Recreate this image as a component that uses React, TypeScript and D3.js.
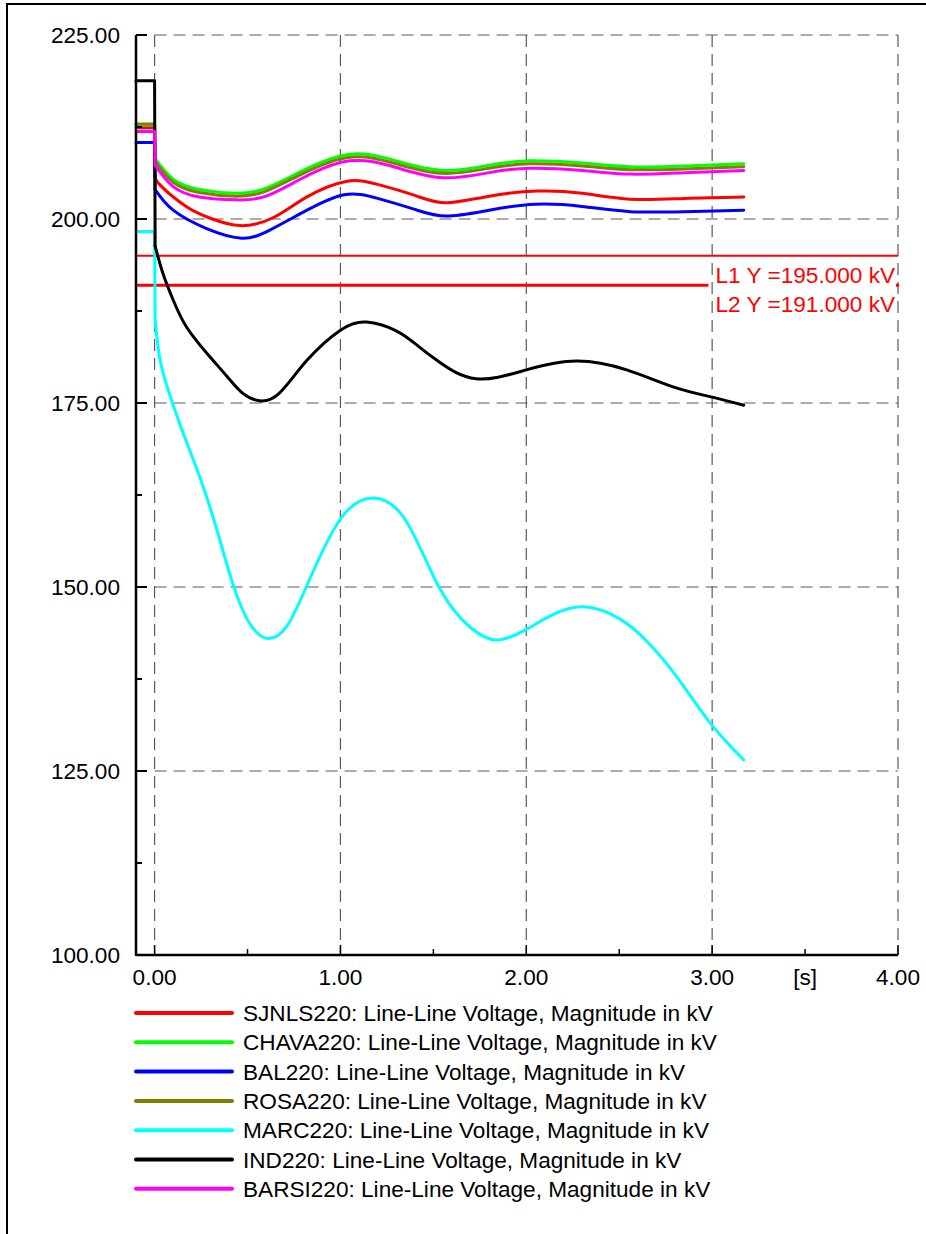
import React from "react";
import * as d3 from "d3";

// ---- data ----
const redT = [-0.1, 0, 0.003, 0.03, 0.17, 0.3, 0.46, 0.64, 0.82, 1.03, 1.2, 1.4, 1.57, 1.8, 2.06, 2.3, 2.56, 2.85, 3.17];
const redV = [212.4, 212.4, 205.9, 204.6, 201.7, 200.1, 199.1, 200.2, 203.0, 205.1, 204.7, 203.2, 202.2, 203.1, 203.8, 203.5, 202.7, 202.8, 203.0];

const greenT = [-0.1, 0, 0.003, 0.1, 0.24, 0.44, 0.6, 0.8, 1.05, 1.3, 1.55, 1.8, 2.02, 2.3, 2.56, 2.85, 3.17];
const greenV = [212.8, 212.8, 208.2, 205.4, 204.0, 203.5, 204.2, 206.6, 208.8, 207.9, 206.6, 207.3, 207.9, 207.6, 207.1, 207.2, 207.5];

const blueT = [-0.1, 0, 0.003, 0.1, 0.28, 0.47, 0.62, 0.82, 1.02, 1.2, 1.4, 1.57, 1.8, 2.05, 2.3, 2.56, 2.85, 3.17];
const blueV = [210.4, 210.4, 204.0, 201.2, 198.7, 197.4, 198.5, 201.2, 203.3, 202.8, 201.3, 200.4, 201.2, 202.0, 201.7, 201.0, 201.0, 201.2];

const oliveT = [-0.1, 0, 0.003, 0.1, 0.24, 0.44, 0.6, 0.8, 1.05, 1.3, 1.55, 1.8, 2.02, 2.3, 2.56, 2.85, 3.17];
const oliveV = [212.9, 212.9, 207.8, 205.0, 203.6, 203.1, 203.8, 206.2, 208.4, 207.5, 206.2, 206.9, 207.5, 207.2, 206.7, 206.8, 207.1];

const cyanT = [-0.1, 0, 0.003, 0.03, 0.07, 0.135, 0.242, 0.33, 0.42, 0.51, 0.61, 0.71, 0.816, 0.996, 1.175, 1.35, 1.53, 1.695, 1.84, 1.99, 2.14, 2.31, 2.5, 2.65, 2.81, 2.99, 3.17];
const cyanV = [198.3, 198.3, 186.0, 180.8, 177.0, 172.2, 165.0, 158.2, 150.5, 145.1, 143.0, 144.6, 150.0, 159.1, 162.1, 159.1, 150.0, 144.6, 142.8, 144.1, 146.2, 147.3, 145.7, 142.6, 137.8, 131.5, 126.5];

const blackT = [-0.1, 0, 0.003, 0.045, 0.1, 0.17, 0.28, 0.39, 0.475, 0.565, 0.67, 0.82, 1.0, 1.14, 1.3, 1.42, 1.53, 1.73, 2.0, 2.27, 2.54, 2.79, 3.0, 3.17];
const blackV = [218.8, 218.8, 196.3, 192.6, 189.0, 185.4, 181.8, 178.6, 176.3, 175.3, 176.3, 180.8, 184.9, 186.0, 184.8, 182.7, 180.6, 178.3, 179.5, 180.7, 179.5, 177.2, 175.8, 174.7];

const magentaT = [-0.1, 0, 0.003, 0.1, 0.24, 0.44, 0.6, 0.8, 1.05, 1.3, 1.55, 1.8, 2.02, 2.3, 2.56, 2.85, 3.17];
const magentaV = [211.9, 211.9, 207.3, 204.4, 203.0, 202.6, 203.1, 205.6, 207.9, 207.0, 205.6, 206.3, 206.9, 206.6, 206.1, 206.3, 206.6];

const seriesNames = ["SJNLS220", "CHAVA220", "BAL220", "ROSA220", "MARC220", "IND220", "BARSI220"];
const seriesColors = ["#ff0000", "#00ff00", "#0000ff", "#808000", "#00ffff", "#000000", "#ff00ff"];
const seriesTimes = [redT, greenT, blueT, oliveT, cyanT, blackT, magentaT];
const seriesValues = [redV, greenV, blueV, oliveV, cyanV, blackV, magentaV];

const yTicks = [100, 125, 150, 175, 200, 225];
const yMinorTicks = [112.5, 137.5, 162.5, 187.5, 212.5];
const xTicks = [0, 1, 2, 3, 4];
const xMinorTicks = [0.5, 1.5, 2.5, 3.5];
const refLevels = [195, 191];
const refLabels = ["L1 Y =195.000 kV", "L2 Y =191.000 kV"];

const FONT = "'Liberation Sans', Arial, Helvetica, sans-serif";

export default function App() {
  const W = 926, H = 1234;
  const x = d3.scaleLinear().domain([-0.1, 4]).range([136, 898]);
  const y = d3.scaleLinear().domain([100, 225]).range([955, 35]);
  const fmt = d3.format(".2f");
  const stepLine = d3
    .line<[number, number]>()
    .x((d) => x(d[0]))
    .y((d) => y(d[1]))
    .curve(d3.curveLinear);
  const smoothLine = d3
    .line<[number, number]>()
    .x((d) => x(d[0]))
    .y((d) => y(d[1]))
    .curve(d3.curveNatural);

  const x0 = x(-0.1), x1 = x(4);
  const yTop = y(225), yBot = y(100);
  const grid = "#5a5a5a";
  const dash = "12,7";
  const FS = 22.6;

  return (
    <svg
      width={W}
      height={H}
      style={{ position: "absolute", left: 0, top: 0, background: "#fff" }}
      fontFamily={FONT}
    >
      <rect x={0} y={0} width={W} height={H} fill="#fff" />
      {/* outer frame */}
      <rect x={7} y={4} width={1000} height={1400} fill="none" stroke="#000" strokeWidth={2} />

      {/* grid */}
      {yTicks.filter((v) => v !== 100).map((v) => (
        <line key={"gy" + v} x1={x(0)} x2={x1} y1={y(v)} y2={y(v)} stroke={grid} strokeWidth={1.2} strokeDasharray={dash} />
      ))}
      {xTicks.map((t) => (
        <line key={"gx" + t} x1={x(t)} x2={x(t)} y1={yTop} y2={yBot} stroke={grid} strokeWidth={1.2} strokeDasharray={dash} />
      ))}

      {/* reference lines */}
      <line x1={x0} x2={x1} y1={y(refLevels[0])} y2={y(refLevels[0])} stroke="#ff0000" strokeWidth={2} />
      <line x1={x0} x2={x(2.98)} y1={y(refLevels[1])} y2={y(refLevels[1])} stroke="#ff0000" strokeWidth={3} />
      <line x1={x1 - 2} x2={x1 + 1} y1={y(refLevels[1])} y2={y(refLevels[1])} stroke="#ff0000" strokeWidth={3} />

      {/* series */}
      {seriesNames.map((n, i) => {
        const pts = seriesTimes[i].map((t, j) => [t, seriesValues[i][j]] as [number, number]);
        return (
          <g key={n} fill="none" stroke={seriesColors[i]} strokeWidth={3} strokeLinejoin="round" strokeLinecap="round">
            <path d={stepLine(pts.slice(0, 3)) || ""} />
            <path d={smoothLine(pts.slice(2)) || ""} />
          </g>
        );
      })}

      {/* ref labels */}
      {refLabels.map((s, i) => (
        <text key={s} x={895} y={283 + i * 28.5} textAnchor="end" fontSize={FS} fill="#ff0000">
          {s}
        </text>
      ))}

      {/* axes */}
      <line x1={x0} x2={x0} y1={yTop} y2={yBot + 1} stroke="#000" strokeWidth={2.5} />
      <line x1={x0} x2={x1} y1={yBot} y2={yBot} stroke="#000" strokeWidth={2.5} />
      {yTicks.map((v) => (
        <g key={"yt" + v}>
          <line x1={x0} x2={x0 + 11} y1={y(v)} y2={y(v)} stroke="#000" strokeWidth={2} />
          <text x={120} y={y(v) + 8} textAnchor="end" fontSize={FS} fill="#000">
            {fmt(v)}
          </text>
        </g>
      ))}
      {yMinorTicks.map((v) => (
        <line key={"ym" + v} x1={x0} x2={x0 + 6} y1={y(v)} y2={y(v)} stroke="#000" strokeWidth={2} />
      ))}
      {xTicks.map((t) => (
        <g key={"xt" + t}>
          <line x1={x(t)} x2={x(t)} y1={yBot} y2={yBot - 10} stroke="#000" strokeWidth={1.5} />
          <text x={x(t)} y={985} textAnchor="middle" fontSize={FS} fill="#000">
            {fmt(t)}
          </text>
        </g>
      ))}
      {xMinorTicks.map((t) => (
        <line key={"xm" + t} x1={x(t)} x2={x(t)} y1={yBot} y2={yBot - 6} stroke="#000" strokeWidth={1.5} />
      ))}
      <text x={x(3.5)} y={985} textAnchor="middle" fontSize={FS} fill="#000">
        [s]
      </text>

      {/* legend */}
      {seriesNames.map((n, i) => {
        const ly = 1013 + i * 29.3;
        return (
          <g key={"lg" + n}>
            <line x1={136} x2={232} y1={ly} y2={ly} stroke={seriesColors[i]} strokeWidth={4} strokeLinecap="round" />
            <text x={243} y={ly + 8} fontSize={FS} fill="#000">
              {n + ": Line-Line Voltage, Magnitude in kV"}
            </text>
          </g>
        );
      })}
    </svg>
  );
}
